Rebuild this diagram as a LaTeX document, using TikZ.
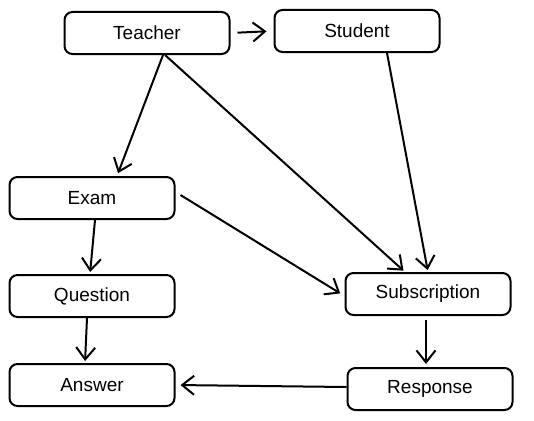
\documentclass[tikz,border=0pt]{standalone}
\usepackage{fontspec}
\setmainfont{Liberation Sans}
\usetikzlibrary{arrows.meta,calc}
\tikzset{
  box/.style={draw, line width=2pt, rounded corners=8pt, minimum width=165pt, minimum height=42pt, inner sep=0pt, font=\fontsize{19}{22}\selectfont},
  conn/.style={line width=2pt, -{Straight Barb[length=12pt,width=19pt,line width=2pt]}}
}
\begin{document}
\begin{tikzpicture}[x=1pt,y=-1pt]
\useasboundingbox (0,0) rectangle (534,420);
\node[box] (teacher) at (147,33) {Teacher};
\node[box] (student) at (357,31) {Student};
\node[box] (exam) at (92,198) {Exam};
\node[box] (question) at (92,296) {Question};
\node[box] (subscription) at (428,294) {Subscription};
\node[box] (answer) at (92,385) {Answer};
\node[box] (response) at (430,389) {Response};

\draw[conn, shorten <=7pt, shorten >=7pt] (teacher.east) -- (student.west);
\draw[conn, shorten >=3pt] ([xshift=16pt]teacher.south) -- ([xshift=25pt]exam.north);
\draw[conn, shorten >=2pt] ([xshift=18pt]teacher.south) -- ([xshift=-23pt]subscription.north);
\draw[conn, shorten >=2pt] ([xshift=30pt]student.south) -- (subscription.north);
\draw[conn, shorten >=5pt] ([xshift=5pt,yshift=3pt]exam.east) -- ([yshift=-2pt]subscription.west);
\draw[conn, shorten >=2pt] ([xshift=3pt]exam.south) -- ([xshift=-2pt]question.north);
\draw[conn, shorten >=2pt] ([xshift=-5pt]question.south) -- ([xshift=-7pt]answer.north);
\draw[conn, shorten <=4pt, shorten >=3pt] ([xshift=-2pt]subscription.south) -- ([xshift=-4pt]response.north);
\draw[conn, shorten >=5pt] ([yshift=2pt]response.west) -- (answer.east);
\end{tikzpicture}
\end{document}
